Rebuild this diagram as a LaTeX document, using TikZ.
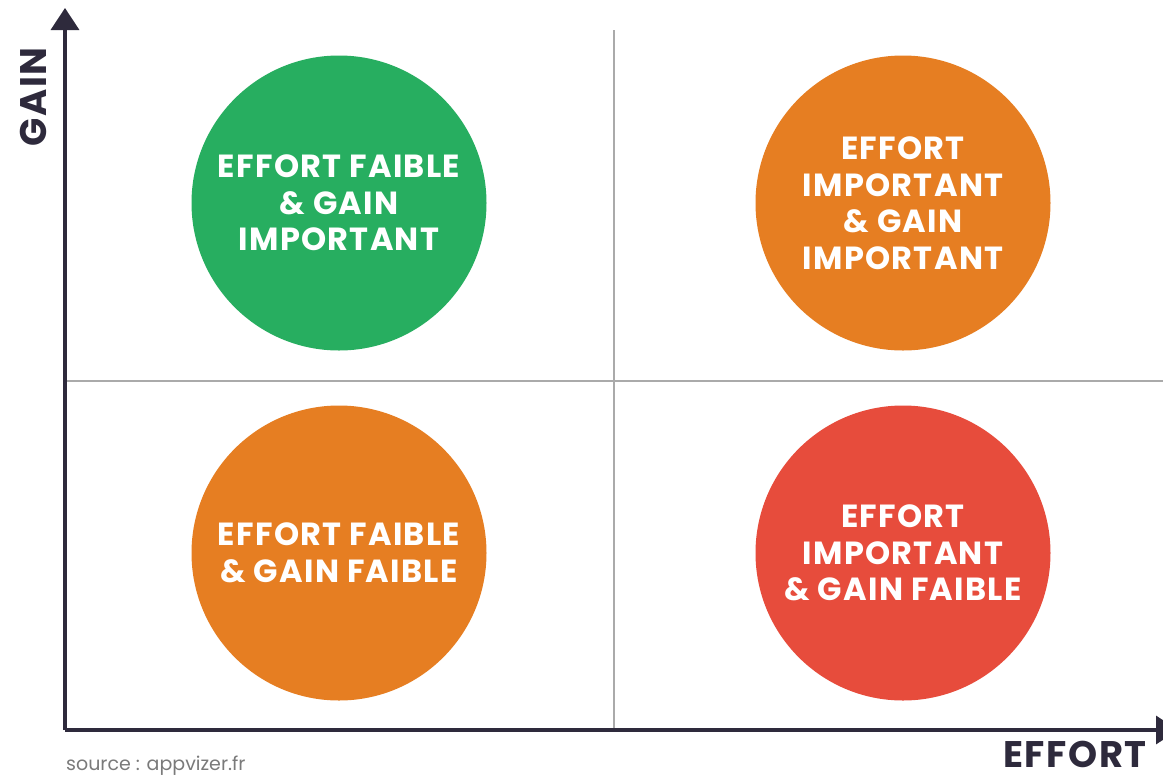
\documentclass[tikz,border=0pt]{standalone}
\usepackage{fontspec}
\setmainfont{Poppins}
\newfontfamily\widefont{Poppins}[LetterSpace=4]
\usetikzlibrary{arrows.meta}
\definecolor{cgreen}{HTML}{27AE60}
\definecolor{corange}{HTML}{E67E22}
\definecolor{cred}{HTML}{E74C3C}
\definecolor{axiscol}{HTML}{2E2A3C}
\definecolor{gridcol}{HTML}{AAAAAA}
\definecolor{srccol}{HTML}{7A7A7A}
\tikzset{
  quad/.style={circle, minimum size=295pt, inner sep=0pt, text=white, align=center,
    font=\widefont\fontsize{32}{36.5}\selectfont\bfseries},
  axislabel/.style={text=axiscol, font=\widefont\fontsize{37}{40}\selectfont\bfseries, inner sep=0pt},
  gridline/.style={draw=gridcol, line width=1.5pt},
  axisline/.style={draw=axiscol, line width=3.5pt, -{Triangle[length=22pt,width=28pt]}}
}
\begin{document}
\begin{tikzpicture}[x=1pt,y=-1pt]
\useasboundingbox (0,0) rectangle (1163,780);
\fill[white] (0,0) rectangle (1163,780);
% coordinates
\coordinate (O) at (65,730);
\coordinate (ytop) at (65,8);
\coordinate (xend) at (1178,730);
\coordinate (vtop) at (614,30);
\coordinate (vbot) at (614,730);
\coordinate (hl) at (65,381);
\coordinate (hr) at (1163,381);
% grid lines
\draw[gridline] (vtop) -- (vbot);
\draw[gridline] (hl) -- (hr);
% circles
\node[quad, fill=cgreen] (tl) at (339,203) {EFFORT FAIBLE\\\& GAIN\\IMPORTANT};
\node[quad, fill=corange] (tr) at (903,203) {EFFORT\\IMPORTANT\\\& GAIN\\IMPORTANT};
\node[quad, fill=corange] (bl) at (339,553) {EFFORT FAIBLE\\\& GAIN FAIBLE};
\node[quad, fill=cred] (br) at (903,553) {EFFORT\\IMPORTANT\\\& GAIN FAIBLE};
% axes
\draw[axisline] (O) -- (ytop);
\draw[axisline] (O) -- (xend);
% labels
\node[axislabel, rotate=90] (gain) at (33,97) {GAIN};
\node[axislabel, anchor=base] (effort) at (1075,767) {EFFORT};
\node[anchor=base west, text=srccol, font=\fontsize{19}{22}\selectfont, inner sep=0pt] (src) at (66,770) {source : appvizer.fr};
\end{tikzpicture}
\end{document}
